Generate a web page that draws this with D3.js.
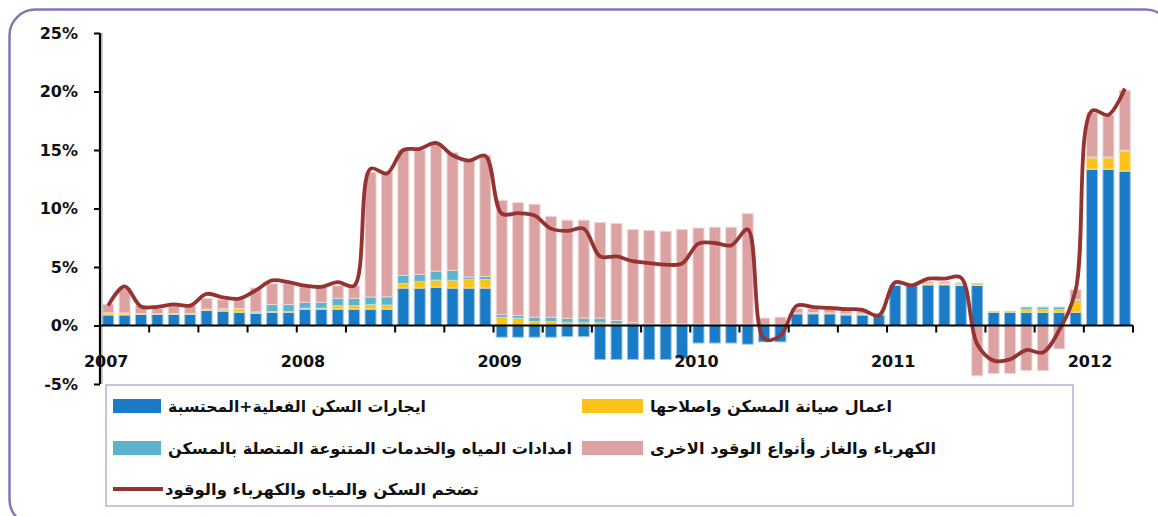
<!DOCTYPE html>
<html><head><meta charset="utf-8">
<script src="https://cdn.jsdelivr.net/npm/d3@7"></script>
<style>
html,body{margin:0;padding:0;background:#fff;}
svg{display:block;}
</style></head>
<body>
<svg id="chart" width="1158" height="516"></svg>
<script>
// ---- DATA ----
const months = d3.range(63).map(i => {
  const y = 2007 + Math.floor(i / 12), m = i % 12 + 1;
  return y + "-" + (m < 10 ? "0" : "") + m;
});
const yTicks = [-5, 0, 5, 10, 15, 20, 25];

const seriesNames = [
  "ايجارات السكن الفعلية+المحتسبة",
  "اعمال صيانة المسكن واصلاحها",
  "امدادات المياه والخدمات المتنوعة المتصلة بالمسكن",
  "الكهرباء والغاز وأنواع الوقود الاخرى"
];
const lineName = "تضخم السكن والمياه والكهرباء والوقود";

const rent = [0.9,0.9,0.95,0.95,0.95,0.95,1.28,1.23,1.14,1.05,1.14,1.14,
  1.4,1.4,1.4,1.4,1.4,1.4,3.2,3.2,3.28,3.2,3.2,3.2,
  -1.0,-1.0,-1.0,-1.0,-0.95,-0.95,-2.9,-2.9,-2.9,-2.9,-2.9,-2.8,
  -1.5,-1.5,-1.5,-1.6,-1.4,-1.4,1.0,1.0,1.0,0.9,0.9,0.9,
  3.42,3.42,3.47,3.47,3.42,3.42,1.14,1.14,1.14,1.14,1.14,1.14,
  13.36,13.36,13.2];
const maintenance = [0.14,0.12,0.03,0.03,0.03,0.03,0.05,0.12,0.23,0.03,0.05,0.05,
  0.08,0.08,0.3,0.3,0.4,0.35,0.4,0.57,0.6,0.66,0.74,0.74,
  0.71,0.63,0.34,0.34,0.26,0.26,0.26,0.14,0.12,0.1,0.1,0.1,
  0.1,0.08,0.08,0.08,0.03,0.03,0.05,0.08,0.05,0.08,0.08,0.05,
  0.03,0.03,0.1,0.1,0.12,0.15,0.03,0.05,0.23,0.23,0.23,1.0,
  0.97,0.97,1.7];
const water = [0.05,0.05,0.05,0.03,0.05,0.05,0.08,0.08,0.08,0.08,0.6,0.6,
  0.5,0.5,0.63,0.63,0.63,0.7,0.68,0.6,0.77,0.86,0.2,0.25,
  0.23,0.23,0.37,0.37,0.37,0.37,0.37,0.29,0.14,0.03,0.03,0.03,
  0.02,0.02,0.02,0.02,0.02,0.02,0.02,0.02,0.02,0.02,0.02,0.02,
  0.02,0.02,0.02,0.02,0.02,0.02,0.02,0.02,0.2,0.2,0.2,0.08,
  0.08,0.08,0.08];
const fuel = [0.7,2.1,0.67,0.45,0.77,0.67,0.89,0.77,0.75,2.04,1.78,1.78,
  1.32,1.32,1.07,1.07,10.67,10.65,10.72,10.63,10.9,10.08,9.96,10.36,
  9.76,9.64,9.65,8.62,8.37,8.37,8.17,8.3,7.94,8.0,7.92,8.07,
  8.21,8.3,8.3,9.46,0.58,0.66,0.36,0.33,0.36,0.35,0.3,0.0,
  0.0,0.0,0.15,0.15,0.1,-4.3,-4.1,-4.1,-3.85,-3.85,-2.0,0.83,
  3.79,3.59,5.12];
const inflation = [1.7,3.34,1.63,1.6,1.8,1.7,2.7,2.4,2.3,3.0,3.85,3.7,
  3.4,3.3,3.7,3.4,13.4,13.0,15.0,15.1,15.6,14.55,14.1,14.5,
  9.56,9.6,9.4,8.28,8.08,8.28,5.9,5.9,5.5,5.34,5.2,5.3,
  7.0,7.05,6.85,8.2,-1.14,-0.86,1.7,1.57,1.5,1.4,1.34,0.86,
  3.7,3.42,4.0,4.0,4.1,-1.6,-3.0,-2.9,-2.1,-2.3,-0.4,3.0,
  18.35,18.0,20.26];

// ---- STYLE ----
const colors = ["#1a7cc7", "#fec31b", "#5bb3cd", "#dca2a1"];
const lineColor = "#943331";
const font = "DejaVu Sans";

const svg = d3.select("#chart");

// outer frame
svg.append("rect").attr("x", 9.5).attr("y", 9.5).attr("width", 1162).attr("height", 516)
  .attr("rx", 26).attr("fill", "none").attr("stroke", "#8a74b4").attr("stroke-width", 2.5);

const x = d3.scaleBand().domain(months).range([100, 1133]).paddingInner(0.33).paddingOuter(0.165);
const y = d3.scaleLinear().domain([-5, 25]).range([384, 33]);

const table = months.map((m, i) => ({m, s0: rent[i], s1: maintenance[i], s2: water[i], s3: fuel[i]}));
const keys = ["s0", "s1", "s2", "s3"];
const stacked = d3.stack().keys(keys).offset(d3.stackOffsetDiverging)(table);

const g = svg.append("g");
stacked.forEach((layer, k) => {
  g.append("g").attr("fill", colors[k])
    .attr("stroke", d3.interpolateRgb(colors[k], "#fff")(0.55)).attr("stroke-width", 1)
    .selectAll("rect").data(layer.filter(d => d[0] !== d[1])).join("rect")
    .attr("x", d => x(d.data.m))
    .attr("width", x.bandwidth())
    .attr("y", d => y(Math.max(d[0], d[1])))
    .attr("height", d => Math.abs(y(d[0]) - y(d[1])));
});

// line
const line = d3.line().x((d, i) => x(months[i]) + x.bandwidth() / 2).y(d => y(d))
  .curve(d3.curveCatmullRom.alpha(0.5));
svg.append("path").datum(inflation).attr("d", line).attr("fill", "none")
  .attr("stroke", lineColor).attr("stroke-width", 3.8).attr("stroke-linejoin", "round");

// y axis
const yAxis = svg.append("g").attr("transform", "translate(100,0)")
  .call(d3.axisLeft(y).tickValues(yTicks).tickFormat(d => d + "%").tickSize(6).tickPadding(16));
yAxis.select(".domain").remove();
yAxis.selectAll(".tick line").attr("stroke", "#000").attr("stroke-width", 2);
yAxis.selectAll("text").attr("font-family", font).attr("font-size", 16).attr("font-weight", "bold").attr("fill", "#111");
svg.append("line").attr("x1", 102).attr("x2", 102).attr("y1", y(25)).attr("y2", y(-5))
  .attr("stroke", "#bbb").attr("stroke-width", 1.5);
svg.append("line").attr("x1", 100).attr("x2", 100).attr("y1", y(25)).attr("y2", y(-5))
  .attr("stroke", "#000").attr("stroke-width", 2.2);

// x axis at zero
const x0 = x.range()[0], step = x.step();
svg.append("line").attr("x1", x0).attr("x2", x.range()[1]).attr("y1", y(0)).attr("y2", y(0))
  .attr("stroke", "#000").attr("stroke-width", 2.2);
const tickIdx = d3.range(3, months.length + 1, 3);
svg.append("g").selectAll("line").data(tickIdx).join("line")
  .attr("x1", k => x0 + k * step).attr("x2", k => x0 + k * step)
  .attr("y1", y(0)).attr("y2", y(0) + 7).attr("stroke", "#000").attr("stroke-width", 2);
svg.append("g").selectAll("text").data(months.filter(m => m.endsWith("-01"))).join("text")
  .attr("x", m => x(m) + x.bandwidth() / 2 - 2).attr("y", y(0) + 41)
  .attr("text-anchor", "middle").attr("font-family", font).attr("font-size", 16)
  .attr("font-weight", "bold").attr("fill", "#111").text(m => m.slice(0, 4));

// legend
svg.append("rect").attr("x", 106).attr("y", 385).attr("width", 967).attr("height", 121)
  .attr("fill", "#fff").attr("stroke", "#cbc3de").attr("stroke-width", 2);
const legendItems = [
  {name: seriesNames[0], color: colors[0], col: 0, row: 0, type: "bar", w: 258},
  {name: seriesNames[1], color: colors[1], col: 1, row: 0, type: "bar", w: 242},
  {name: seriesNames[2], color: colors[2], col: 0, row: 1, type: "bar", w: 404},
  {name: seriesNames[3], color: colors[3], col: 1, row: 1, type: "bar", w: 286},
  {name: lineName, color: lineColor, col: 0, row: 2, type: "line", w: 314}
];
const colX = [113, 582], rowY = [406, 448, 489];
const lg = svg.append("g");
legendItems.forEach(it => {
  const lx = colX[it.col], ly = rowY[it.row];
  if (it.type === "bar") {
    lg.append("rect").attr("x", lx).attr("y", ly - 7).attr("width", it.col ? 61 : 48).attr("height", 14).attr("fill", it.color);
  } else {
    lg.append("line").attr("x1", lx).attr("x2", lx + 50).attr("y1", ly).attr("y2", ly)
      .attr("stroke", it.color).attr("stroke-width", 3.8);
  }
  lg.append("text").attr("x", lx + (it.col ? 68 : (it.type === "line" ? 52 : 55))).attr("y", ly + 6)
    .attr("font-family", font).attr("font-size", 16).attr("font-weight", "bold").attr("fill", "#111")
    .attr("textLength", it.w).attr("lengthAdjust", "spacingAndGlyphs")
    .text(it.name);
});
</script>
</body></html>
